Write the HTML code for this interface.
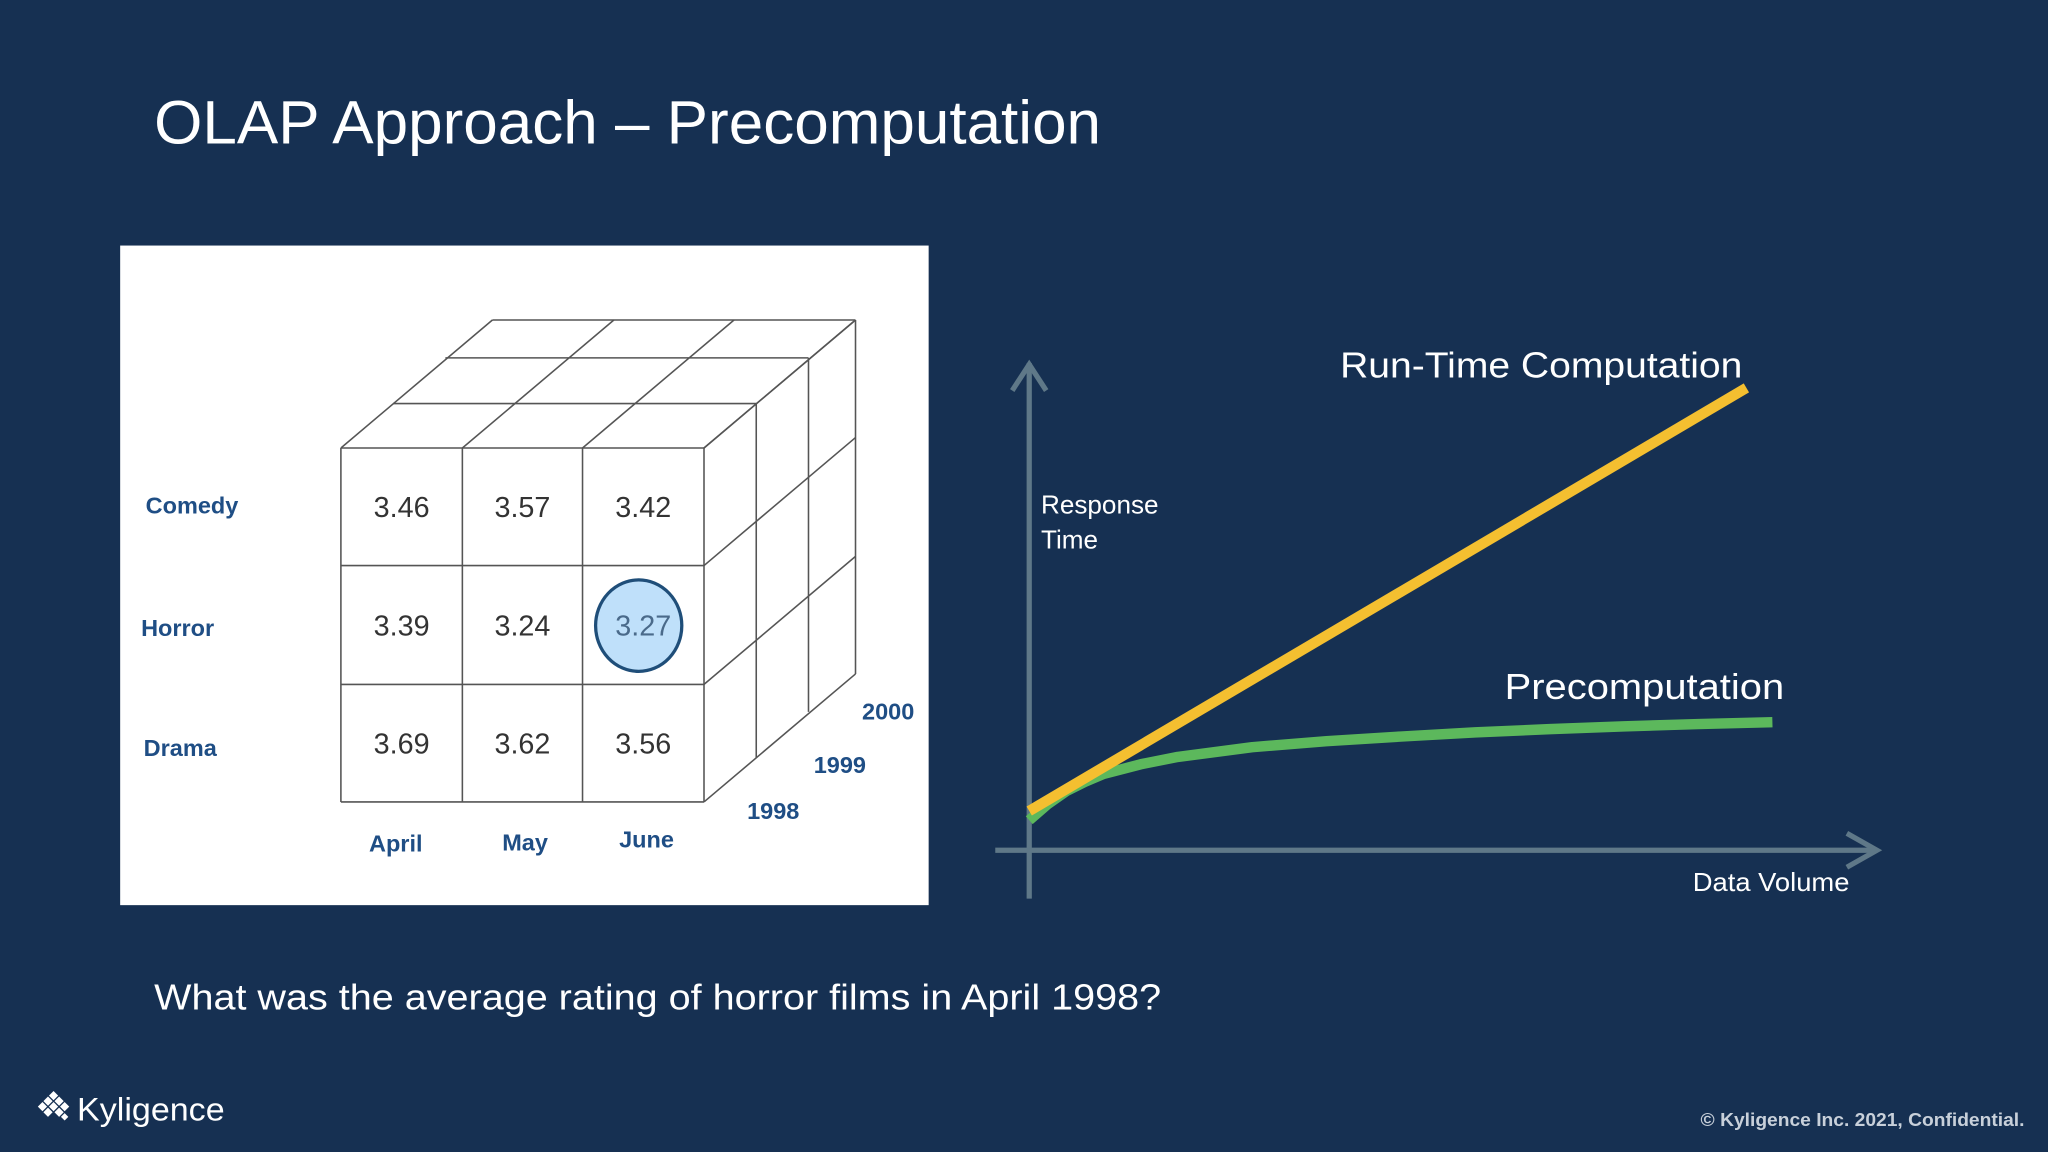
<!DOCTYPE html>
<html><head><meta charset="utf-8"><style>
html,body{margin:0;padding:0;background:#163052;}
svg{display:block}
text{font-family:"Liberation Sans","DejaVu Sans",sans-serif}
</style></head><body>
<svg id="s" width="2048" height="1152" viewBox="0 0 1568 882" xmlns="http://www.w3.org/2000/svg">
<rect width="1568" height="882" fill="#163052"/>
<text x="118" y="110" font-size="47" fill="#ffffff" textLength="725" lengthAdjust="spacingAndGlyphs">OLAP Approach – Precomputation</text>
<rect x="92" y="188" width="619" height="505" fill="#ffffff"/>
<g id="cube" stroke="#555" stroke-width="1.2" fill="none"></g>
<ellipse cx="489" cy="479" rx="33" ry="35" fill="#bfe0fa" stroke="#1f4e79" stroke-width="2.5"/>
<g id="cubetext"></g>
<g id="chart"></g>
<text x="118" y="773" font-size="28" fill="#ffffff" textLength="771" lengthAdjust="spacingAndGlyphs">What was the average rating of horror films in April 1998?</text>
<g fill="#ffffff">
<g transform="translate(41,848) rotate(45)">
<rect x="-9" y="-9" width="5" height="5"/><rect x="-3" y="-9" width="5" height="5"/><rect x="3" y="-9" width="5" height="5"/>
<rect x="-9" y="-3" width="5" height="5"/><rect x="-3" y="-3" width="5" height="5"/><rect x="3" y="-3" width="5" height="5"/>
<rect x="-9" y="3" width="5" height="5"/><rect x="-3" y="3" width="5" height="5"/><rect x="9" y="-3" width="4" height="4"/>
</g>
<text x="59" y="858" font-size="25" fill="#ffffff" textLength="113" lengthAdjust="spacingAndGlyphs">Kyligence</text>
</g>
<text x="1550" y="862" font-size="14" font-weight="bold" fill="#c8d0da" text-anchor="end" textLength="248" lengthAdjust="spacingAndGlyphs">© Kyligence Inc. 2021, Confidential.</text>
</svg>
<script>
const NS="http://www.w3.org/2000/svg";
const genres=["Comedy","Horror","Drama"];
const months=["April","May","June"];
const years=["1998","1999","2000"];
const ratings=[[3.46,3.57,3.42],[3.39,3.24,3.27],[3.69,3.62,3.56]];
const volume=[0,9.65];
const runTime=[8.5,100];
const preVolume=[0,0.25,0.5,0.75,1,1.5,2,3,4,5,6,7,8,9,10];
const preTime=[6.5,10,12.8,14.8,16.5,18.6,20.2,22.3,23.6,24.6,25.5,26.2,26.8,27.3,27.7];

function mk(tag,attrs,parent){const e=document.createElementNS(NS,tag);for(const k in attrs)e.setAttribute(k,attrs[k]);parent.appendChild(e);return e;}
const cube=document.getElementById('cube');
const fx=[261,354,446,539], fy=[343,433,524,614];
const ldx=[0,40,80,116], ldy=[0,-34,-69,-98];
function line(x1,y1,x2,y2,name){const l=mk('line',{x1,y1,x2,y2},cube);}
for(let i=0;i<4;i++){line(fx[i],fy[0],fx[i],fy[3],'front-v-line');line(fx[0],fy[i],fx[3],fy[i],'front-h-line');}
for(let k=1;k<4;k++){
 line(fx[0]+ldx[k],fy[0]+ldy[k],fx[3]+ldx[k],fy[0]+ldy[k],'top-depth-line');
 line(fx[3]+ldx[k],fy[0]+ldy[k],fx[3]+ldx[k],fy[3]+ldy[k],'side-depth-line');
}
for(let i=0;i<4;i++){line(fx[i],fy[0],fx[i]+ldx[3],fy[0]+ldy[3],'top-line');line(fx[3],fy[i],fx[3]+ldx[3],fy[i]+ldy[3],'side-line');}
const ct=document.getElementById('cubetext');
for(let r=0;r<3;r++)for(let c=0;c<3;c++){
 const t=mk('text',{x:(fx[c]+fx[c+1])/2,y:(fy[r]+fy[r+1])/2+8,'font-size':22,'text-anchor':'middle',fill:r==1&&c==2?'#4a6a8a':'#333'},ct);
 t.textContent=ratings[r][c].toFixed(2);
 
 
}
const gpos=[[147,393],[136,487],[138,579]];
genres.forEach((g,i)=>{const t=mk('text',{x:gpos[i][0],y:gpos[i][1],'font-size':18,'font-weight':'bold','text-anchor':'middle',fill:'#1f4e85'},ct);t.textContent=g;
 
 });
const mpos=[[303,652],[402,651],[495,649]];
months.forEach((m,i)=>{const t=mk('text',{x:mpos[i][0],y:mpos[i][1],'font-size':18,'font-weight':'bold','text-anchor':'middle',fill:'#1f4e85'},ct);t.textContent=m;
 
 });
const ypos=[[592,627],[643,592],[680,551]];
years.forEach((y,i)=>{const t=mk('text',{x:ypos[i][0],y:ypos[i][1],'font-size':18,'font-weight':'bold','text-anchor':'middle',fill:'#1f4e85'},ct);t.textContent=y;
 
 });
const ch=document.getElementById('chart');
const X=v=>788+v*56.9, Y=v=>651-v*3.54;
const ax='#5f7888';
let e;
e=mk('line',{x1:788,y1:688,x2:788,y2:278,stroke:ax,'stroke-width':4},ch);

e=mk('polyline',{points:'775,299 788,279 801,299',stroke:ax,'stroke-width':4,fill:'none'},ch);

e=mk('line',{x1:762,y1:651,x2:1437,y2:651,stroke:ax,'stroke-width':4},ch);

e=mk('polyline',{points:'1414,638 1437,651 1414,664',stroke:ax,'stroke-width':4,fill:'none'},ch);

e=mk('polyline',{points:preVolume.map((v,i)=>X(v)+','+Y(preTime[i])).join(' '),stroke:'#5cb85c','stroke-width':8,fill:'none','stroke-linejoin':'round'},ch);

e=mk('polyline',{points:volume.map((v,i)=>X(v)+','+Y(runTime[i])).join(' '),stroke:'#f4bf30','stroke-width':8,fill:'none'},ch);

function lbl(x,y,s,txt,name,len){const a={x,y,'font-size':s,fill:'#fff'};if(len){a.textLength=len;a.lengthAdjust='spacingAndGlyphs';}const t=mk('text',a,ch);t.textContent=txt;}
lbl(1026,289,28,'Run-Time Computation','runtime-label',308);
lbl(1152,535,28,'Precomputation','precomputation-label',214);
lbl(797,393,20,'Response','y-axis-title');
lbl(797,420,20,'Time','y-axis-title-2');
lbl(1296,682,20,'Data Volume','x-axis-title',120);
</script>
</body></html>
